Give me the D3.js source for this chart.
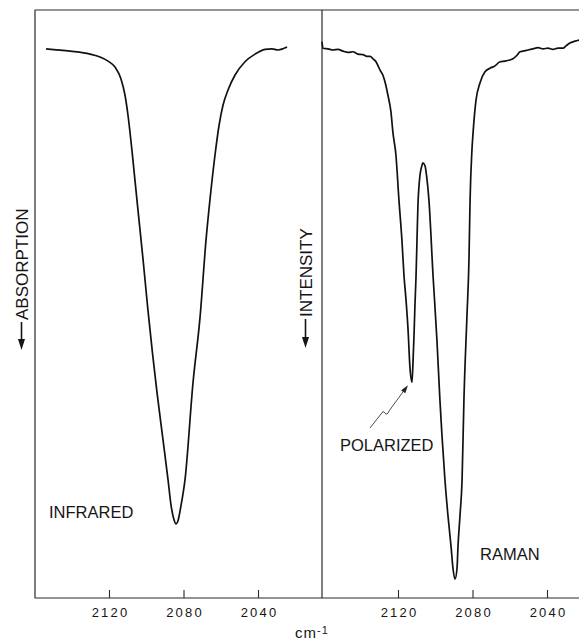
<!DOCTYPE html>
<html>
<head>
<meta charset="utf-8">
<script src="https://cdn.jsdelivr.net/npm/d3@7"></script>
<style>
   body { margin: 0; background: #fff; }
   svg { display: block; }
   text { font-family: "Liberation Sans", Arial, sans-serif; fill: #151515; }
</style>
</head>
<body>
<svg id="chart"></svg>
<script>
var width = 579;
var height = 642;

// infrared band, wavenumber (cm-1) and relative transmission (0 = bottom, 100 = top frame)
var irWavenumber = [2153.8, 2140.9, 2130.2, 2124.8, 2120.5, 2116.8, 2113.6, 2111.4, 2109.8, 2107.7,
   2105.0, 2101.7, 2099.1, 2094.2, 2091.0, 2088.3, 2086.7, 2085.1, 2084.0, 2083.0,
   2081.3, 2079.2, 2074.9, 2071.1, 2067.9, 2065.8, 2063.1, 2060.9, 2058.8, 2056.1,
   2052.4, 2047.0, 2041.6, 2036.2, 2032.5, 2029.3, 2026.6, 2024.4];
var irValue = [93.4, 93.0, 92.5, 92.0, 91.3, 90.3, 88.3, 85.5, 82.1, 76.2,
   67.7, 57.5, 49.0, 34.9, 26.9, 20.1, 15.8, 13.3, 12.6, 13.1,
   15.8, 20.1, 36.6, 47.8, 60.9, 67.7, 75.3, 80.4, 83.8, 86.4,
   88.9, 91.2, 92.5, 93.3, 93.4, 93.2, 93.4, 93.7];

// raman band
var ramanWavenumber = [2160.8, 2160.3, 2157.6, 2154.9, 2152.2, 2149.5, 2146.8, 2144.2, 2141.5, 2138.8,
   2136.6, 2135.0, 2133.4, 2131.8, 2130.7, 2129.7, 2128.1, 2127.0, 2125.4, 2123.8,
   2122.7, 2121.1, 2119.5, 2117.9, 2116.8, 2115.7, 2114.6, 2113.6, 2112.5, 2111.9,
   2111.4, 2110.9, 2110.3, 2109.8, 2109.3, 2108.7, 2108.2, 2107.1, 2106.6, 2105.5,
   2104.4, 2103.4, 2101.2, 2099.1, 2097.5, 2096.4, 2094.8, 2093.2, 2091.5, 2090.5,
   2089.4, 2088.3, 2087.8, 2086.7, 2085.6, 2084.6, 2083.0, 2081.9, 2081.3, 2080.3,
   2079.7, 2078.1, 2076.0, 2073.3, 2070.6, 2067.9, 2065.2, 2062.6, 2059.9, 2058.3,
   2056.1, 2054.5, 2052.9, 2050.2, 2047.5, 2044.8, 2042.1, 2039.5, 2036.8, 2034.1,
   2031.4, 2029.8, 2027.7, 2025.0, 2022.8];
var ramanValue = [94.6, 93.5, 93.4, 93.2, 93.3, 93.0, 92.8, 92.9, 92.5, 92.4,
   92.1, 92.1, 91.7, 91.2, 90.5, 89.8, 88.9, 87.8, 85.5, 82.7,
   79.1, 75.3, 67.7, 60.9, 54.9, 50.7, 45.6, 39.3, 36.7, 40.5,
   44.7, 49.8, 54.9, 60.9, 66.8, 70.2, 71.9, 73.6, 74.0, 73.5,
   71.1, 67.7, 54.9, 43.9, 33.7, 27.7, 20.1, 14.1, 8.7, 5.1,
   3.2, 5.1, 8.7, 14.1, 20.1, 33.7, 47.8, 57.5, 67.7, 76.2,
   79.1, 84.7, 87.6, 89.5, 90.1, 90.5, 91.2, 91.3, 91.5, 91.7,
   92.3, 92.9, 93.0, 93.2, 93.4, 93.6, 93.4, 93.5, 93.3, 93.5,
   93.5, 93.9, 94.4, 94.7, 94.9];

var tickValues = [2120, 2080, 2040];

var frameLeft = 35, frameTop = 10, frameBottom = 598, divider = 322;

var svg = d3.select('#chart')
   .attr('width', width)
   .attr('height', height)
;

var xIR = d3.scaleLinear().domain([2120, 2040]).range([109, 258]);
var xRaman = d3.scaleLinear().domain([2120, 2040]).range([398, 547]);
var y = d3.scaleLinear().domain([0, 100]).range([frameBottom, frameTop]);

// frame
var frame = svg.append('g')
   .attr('stroke', '#2a2a2a')
   .attr('stroke-width', 1.2)
   .attr('fill', 'none')
;

frame.append('path')
   .attr('d', 'M' + width + ',' + frameTop + 'H' + frameLeft + 'V' + frameBottom + 'H' + width)
;

frame.append('line')
   .attr('x1', divider).attr('x2', divider)
   .attr('y1', frameTop).attr('y2', frameBottom)
;

// axes
function drawAxis(scale) {
   var a = svg.append('g')
      .attr('transform', 'translate(0,' + frameBottom + ')')
      .call(d3.axisBottom(scale)
         .tickValues(tickValues)
         .tickSize(-8)
         .tickPadding(10)
         .tickFormat(d3.format('d')))
   ;
   a.select('.domain').remove();
   a.selectAll('line').attr('stroke', '#2a2a2a').attr('stroke-width', 1.1);
   a.selectAll('text')
      .attr('dx', '1px')
      .style('font-size', '13px')
      .style('letter-spacing', '2.2px')
      .style('font-family', '"Liberation Sans", Arial, sans-serif')
      .attr('fill', '#151515')
   ;
}

drawAxis(xIR);
drawAxis(xRaman);

// spectra
var irLine = d3.line()
   .x(function(d) { return xIR(d[0]); })
   .y(function(d) { return y(d[1]); })
   .curve(d3.curveMonotoneX)
;

var ramanLine = d3.line()
   .x(function(d) { return xRaman(d[0]); })
   .y(function(d) { return y(d[1]); })
   .curve(d3.curveMonotoneX)
;

svg.append('path')
   .datum(d3.zip(irWavenumber, irValue))
   .attr('d', irLine)
   .attr('fill', 'none')
   .attr('stroke', '#111')
   .attr('stroke-width', 1.7)
   .attr('stroke-linejoin', 'round')
;

svg.append('path')
   .datum(d3.zip(ramanWavenumber, ramanValue))
   .attr('d', ramanLine)
   .attr('fill', 'none')
   .attr('stroke', '#111')
   .attr('stroke-width', 1.7)
   .attr('stroke-linejoin', 'round')
;

// labels
function label(text, x, yy, size) {
   return svg.append('text')
      .attr('x', x)
      .attr('y', yy)
      .style('font-size', size + 'px')
      .text(text)
   ;
}

label('INFRARED', 49, 518, 16.5);
label('RAMAN', 480, 560, 16.5);
label('POLARIZED', 340, 451, 16.5);

// rotated y labels with down arrows
function yLabel(text, x, bottom, tip) {
   svg.append('text')
      .attr('transform', 'translate(' + x + ',' + bottom + ') rotate(-90)')
      .style('font-size', '17px')
      .text(text)
   ;
   var cx = x - 6.5;
   svg.append('line')
      .attr('x1', cx).attr('x2', cx)
      .attr('y1', bottom + 2).attr('y2', tip - 8)
      .attr('stroke', '#151515')
      .attr('stroke-width', 1.6)
   ;
   svg.append('path')
      .attr('d', 'M' + (cx - 3.5) + ',' + (tip - 11) + 'L' + (cx + 3.5) + ',' + (tip - 11) + 'L' + cx + ',' + tip + 'Z')
      .attr('fill', '#151515')
   ;
}

yLabel('ABSORPTION', 28, 320, 350);
yLabel('INTENSITY', 312, 317, 348);

// polarized pointer
var tip = [xRaman(2112.5) - 4, y(36.7) + 3];
svg.append('path')
   .attr('d', 'M370,428 L381,414 Q383,410 385,413 Q387,416 389,411 L' + (tip[0] - 3) + ',' + (tip[1] + 4))
   .attr('fill', 'none')
   .attr('stroke', '#222')
   .attr('stroke-width', 0.8)
;

var dx = tip[0] - 389, dy = tip[1] - 411;
var len = Math.sqrt(dx * dx + dy * dy);
var ux = dx / len, uy = dy / len;
var bx = tip[0] - ux * 8, by = tip[1] - uy * 8;
svg.append('path')
   .attr('d', 'M' + tip[0] + ',' + tip[1] +
      'L' + (bx - uy * 2.5) + ',' + (by + ux * 2.5) +
      'L' + (bx + uy * 2.5) + ',' + (by - ux * 2.5) + 'Z')
   .attr('fill', '#222')
;

// x unit
var unit = svg.append('text')
   .attr('x', 295)
   .attr('y', 638)
   .style('font-size', '15px')
   .style('letter-spacing', '1px')
;
unit.append('tspan').text('cm');
unit.append('tspan').attr('dy', -4).style('font-size', '11px').text('-1');
</script>
</body>
</html>
